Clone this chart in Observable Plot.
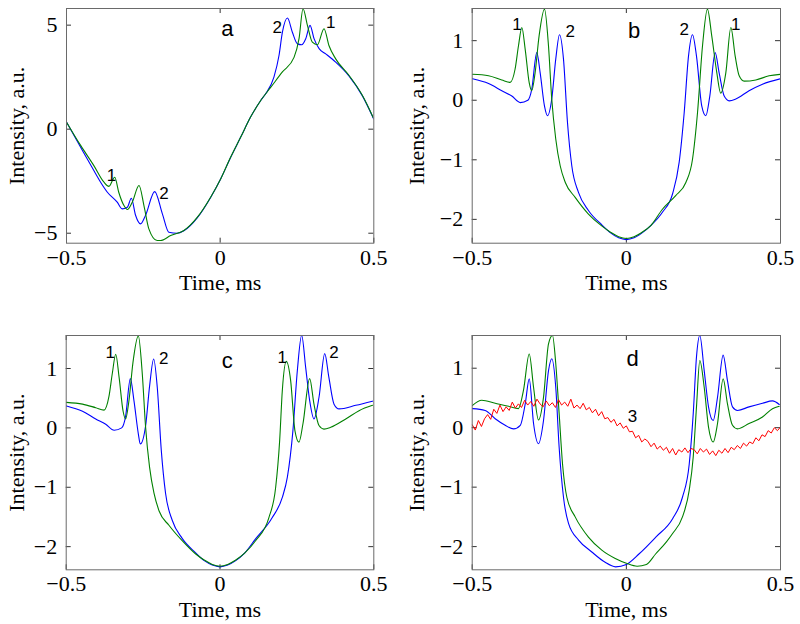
<!DOCTYPE html>
<html><head><meta charset="utf-8">
<script src="https://cdn.jsdelivr.net/npm/d3@7"></script>
<script src="https://cdn.jsdelivr.net/npm/@observablehq/plot@0.6"></script>
<style>
body{margin:0;background:#fff;}
#wrap{position:relative;width:800px;height:624px;overflow:hidden;}
.panel{position:absolute;}
</style></head>
<body><div id="wrap"></div>
<script>
// ---------- axis ticks ----------
const xTicks = [-0.5, 0, 0.5];
const yTicksA = [-5, 0, 5];
const yTicksBCD = [-2, -1, 0, 1];
const xLabel = "Time, ms";
const yLabel = "Intensity, a.u.";

// ---------- panel a ----------
const aGreenT = [-0.5,-0.454,-0.411,-0.378,-0.362,-0.343,-0.33,-0.313,-0.302,-0.286,-0.264,-0.248,-0.232,-0.205,-0.194,-0.161,-0.118,-0.074,-0.031,0.002,0.034,0.067,0.099,0.132,0.165,0.2026,0.2404,0.2567,0.2697,0.284,0.300,0.3166,0.338,0.354,0.376,0.4196,0.463,0.5];
const aGreenV = [0.34,-0.78,-1.75,-2.55,-2.75,-2.31,-3.03,-3.67,-3.86,-3.51,-2.71,-3.67,-4.79,-5.35,-5.35,-5.11,-4.87,-4.23,-3.27,-2.38,-1.35,-0.38,0.58,1.38,2.02,2.75,3.45,4.35,5.79,4.99,4.18,4.06,4.83,4.02,3.38,2.58,1.62,0.5];
const aBlueT = [-0.5,-0.454,-0.411,-0.389,-0.367,-0.335,-0.319,-0.302,-0.289,-0.275,-0.259,-0.243,-0.213,-0.188,-0.167,-0.14,-0.118,-0.074,-0.031,0.002,0.034,0.067,0.099,0.132,0.148,0.175,0.1915,0.2026,0.219,0.235,0.2515,0.2655,0.2785,0.2925,0.3055,0.322,0.3436,0.376,0.4196,0.463,0.5];
const aBlueV = [0.34,-0.87,-1.99,-2.55,-3.03,-3.51,-3.83,-3.75,-3.32,-4.15,-4.55,-4.15,-3.0,-4.07,-4.95,-5.0,-4.88,-4.25,-3.28,-2.38,-1.36,-0.38,0.58,1.38,1.70,2.50,3.54,4.66,5.34,4.66,4.10,4.06,4.35,4.99,4.35,3.87,3.62,3.22,2.55,1.60,0.48];
const aLetterT = [0.0235], aLetterV = [4.83], aLetterS = ["a"];
const aNumT = [-0.354,-0.183,0.186,0.36], aNumV = [-2.23,-3.1,4.90,5.14], aNumS = ["1","2","2","1"];

// ---------- panel b ----------
const bGreenT = [-0.499,-0.447,-0.404,-0.377,-0.361,-0.350,-0.339,-0.328,-0.315,-0.307,-0.296,-0.283,-0.2655,-0.2525,-0.242,-0.229,-0.2146,-0.198,-0.166,-0.123,-0.08,-0.05,-0.025,0.0,0.025,0.05,0.08,0.117,0.160,0.193,0.2146,0.2308,0.247,0.263,0.277,0.2935,0.306,0.3226,0.339,0.353,0.366,0.382,0.420,0.463,0.5];
const bGreenV = [0.435,0.41,0.34,0.30,0.52,0.91,1.22,0.85,0.29,0.16,0.46,1.08,1.53,0.91,0.02,-0.65,-1.10,-1.38,-1.63,-1.91,-2.11,-2.22,-2.29,-2.32,-2.29,-2.22,-2.10,-1.83,-1.60,-1.38,-0.99,-0.21,0.91,1.53,1.08,0.46,0.12,0.46,1.22,0.74,0.41,0.32,0.34,0.41,0.435];
const bBlueT = [-0.499,-0.447,-0.404,-0.3715,-0.344,-0.3196,-0.307,-0.2905,-0.2795,-0.2655,-0.2558,-0.242,-0.229,-0.2168,-0.2039,-0.191,-0.177,-0.155,-0.123,-0.08,-0.05,-0.025,0.0,0.025,0.05,0.08,0.117,0.150,0.1714,0.1876,0.2016,0.2146,0.2275,0.2447,0.2577,0.2707,0.288,0.301,0.3174,0.3336,0.355,0.398,0.4416,0.5];
const bBlueV = [0.36,0.28,0.16,0.07,-0.04,0.0,0.18,0.80,0.46,-0.10,-0.26,0.02,0.69,1.10,0.69,-0.37,-1.10,-1.55,-1.85,-2.09,-2.23,-2.31,-2.34,-2.31,-2.23,-2.10,-1.88,-1.57,-1.04,-0.21,0.74,1.10,0.74,-0.10,-0.26,0.07,0.80,0.46,0.07,-0.01,0.02,0.16,0.27,0.36];
const bLetterT = [0.025], bLetterV = [1.16], bLetterS = ["b"];
const bNumT = [-0.355,-0.182,0.1876,0.355], bNumV = [1.27,1.16,1.19,1.27], bNumS = ["1","2","2","1"];

// ---------- panel c ----------
const cGreenT = [-0.499,-0.447,-0.404,-0.377,-0.361,-0.350,-0.339,-0.328,-0.315,-0.307,-0.296,-0.283,-0.2655,-0.2525,-0.242,-0.229,-0.2146,-0.198,-0.166,-0.123,-0.08,-0.05,-0.025,0.0,0.025,0.05,0.08,0.1156,0.159,0.181,0.194,0.2026,0.2156,0.2296,0.2437,0.2567,0.2697,0.2915,0.3055,0.3218,0.338,0.36,0.4088,0.452,0.4958];
const cGreenV = [0.43,0.40,0.34,0.30,0.53,0.92,1.24,0.85,0.28,0.15,0.46,1.10,1.55,0.90,0.02,-0.66,-1.10,-1.40,-1.64,-1.90,-2.12,-2.23,-2.30,-2.33,-2.30,-2.23,-2.11,-1.90,-1.51,-1.0,-0.21,0.63,1.12,0.80,-0.05,-0.24,0.07,0.83,0.40,0.04,-0.02,0.01,0.15,0.29,0.38];
const cBlueT = [-0.499,-0.447,-0.404,-0.3715,-0.344,-0.3196,-0.307,-0.2915,-0.2795,-0.2655,-0.259,-0.242,-0.229,-0.2156,-0.2039,-0.191,-0.177,-0.155,-0.123,-0.08,-0.05,-0.025,0.0,0.025,0.05,0.08,0.1156,0.170,0.2026,0.219,0.237,0.2515,0.2655,0.2785,0.2915,0.3055,0.322,0.3404,0.354,0.3707,0.387,0.4414,0.4958];
const cBlueV = [0.37,0.28,0.15,0.06,-0.04,0.0,0.19,0.83,0.45,-0.10,-0.27,0.03,0.70,1.16,0.68,-0.37,-1.10,-1.56,-1.86,-2.10,-2.24,-2.31,-2.34,-2.31,-2.24,-2.11,-1.87,-1.51,-1.17,-0.83,-0.05,0.97,1.56,1.02,0.46,0.15,0.52,1.25,0.85,0.40,0.32,0.38,0.45];
const cLetterT = [0.0235], cLetterV = [1.13], cLetterS = ["c"];
const cNumT = [-0.357,-0.183,0.2026,0.3707], cNumV = [1.27,1.16,1.19,1.27], cNumS = ["1","2","1","2"];

// ---------- panel d ----------
const dGreenT = [-0.499,-0.469,-0.4254,-0.382,-0.350,-0.3336,-0.315,-0.301,-0.285,-0.2687,-0.2525,-0.2396,-0.229,-0.218,-0.207,-0.193,-0.166,-0.123,-0.0796,-0.036,0.0,0.035,0.065,0.0955,0.13,0.150,0.182,0.204,0.217,0.2275,0.2383,0.2525,0.2665,0.2817,0.2957,0.314,0.328,0.3443,0.3605,0.398,0.4416,0.474,0.496];
const dGreenV = [0.375,0.46,0.41,0.36,0.32,0.63,1.24,0.68,0.13,0.51,1.41,1.55,1.08,0.24,-0.61,-1.17,-1.50,-1.84,-2.06,-2.20,-2.28,-2.33,-2.30,-2.12,-1.92,-1.78,-1.50,-1.05,-0.49,0.35,1.13,0.68,0.01,-0.24,0.07,0.82,0.40,0.04,-0.02,0.07,0.18,0.32,0.36];
const dBlueT = [-0.499,-0.458,-0.4254,-0.393,-0.366,-0.344,-0.328,-0.315,-0.301,-0.285,-0.2687,-0.2525,-0.2418,-0.229,-0.218,-0.2039,-0.1876,-0.155,-0.112,-0.07,-0.035,0.0,0.0417,0.0955,0.150,0.182,0.204,0.217,0.2275,0.2383,0.2525,0.2665,0.2817,0.2957,0.314,0.328,0.3443,0.3605,0.398,0.4416,0.474,0.496];
const dBlueV = [0.32,0.29,0.15,0.04,-0.02,0.04,0.40,0.82,0.07,-0.27,0.12,0.96,1.16,0.68,-0.33,-1.17,-1.61,-1.89,-2.09,-2.26,-2.34,-2.30,-2.12,-1.84,-1.53,-1.17,-0.61,0.24,1.19,1.55,0.96,0.35,0.12,0.51,1.22,0.79,0.35,0.29,0.35,0.41,0.45,0.39];
const dRedT = [-0.50,-0.49,-0.48,-0.47,-0.46,-0.45,-0.44,-0.43,-0.42,-0.41,-0.40,-0.39,-0.38,-0.37,-0.36,-0.35,-0.34,-0.33,-0.32,-0.31,-0.30,-0.29,-0.28,-0.27,-0.26,-0.25,-0.24,-0.23,-0.22,-0.21,-0.20,-0.19,-0.18,-0.17,-0.16,-0.15,-0.14,-0.13,-0.12,-0.11,-0.10,-0.09,-0.08,-0.07,-0.06,-0.05,-0.04,-0.03,-0.02,-0.01,0.00,0.01,0.02,0.03,0.04,0.05,0.06,0.07,0.08,0.09,0.10,0.11,0.12,0.13,0.14,0.15,0.16,0.17,0.18,0.19,0.20,0.21,0.22,0.23,0.24,0.25,0.26,0.27,0.28,0.29,0.30,0.31,0.32,0.33,0.34,0.35,0.36,0.37,0.38,0.39,0.40,0.41,0.42,0.43,0.44,0.45,0.46,0.47,0.48,0.49,0.50];
const dRedV = [0.05,-0.04,0.12,0.02,0.15,0.22,0.14,0.31,0.24,0.38,0.27,0.35,0.29,0.43,0.33,0.40,0.34,0.46,0.38,0.44,0.36,0.48,0.40,0.35,0.45,0.37,0.42,0.34,0.47,0.38,0.43,0.36,0.48,0.33,0.38,0.32,0.41,0.30,0.34,0.25,0.31,0.20,0.27,0.15,0.17,0.09,0.14,0.03,0.08,-0.01,0.03,-0.07,-0.06,-0.17,-0.13,-0.24,-0.19,-0.23,-0.32,-0.26,-0.36,-0.31,-0.38,-0.33,-0.43,-0.35,-0.46,-0.37,-0.41,-0.34,-0.42,-0.35,-0.37,-0.44,-0.35,-0.41,-0.36,-0.45,-0.39,-0.47,-0.38,-0.43,-0.35,-0.42,-0.33,-0.37,-0.30,-0.35,-0.26,-0.31,-0.24,-0.27,-0.17,-0.22,-0.12,-0.15,-0.05,-0.09,0.00,-0.05,0.01];
const dLetterT = [0.02], dLetterV = [1.16], dLetterS = ["d"];
const dNumT = [0.02], dNumV = [0.18], dNumS = ["3"];

// ---------- drawing ----------
const BLUE = "#0000ff", GREEN = "#008000", RED = "#ff0000";
const W = 400, H = 312;
const fmt = d => d === 0 ? "0" : (d < 0 ? "\u2212" : "") + Math.abs(d);
const pts = (T, V) => T.map((t, i) => ({t, v: V[i]}));
const lbl = (T, V, S) => T.map((t, i) => ({t, v: V[i], s: S[i]}));

function makePanel(cfg) {
  const fh = H - cfg.mT - cfg.mB;
  const fw = W - cfg.mL - cfg.mR;
  const marks = [
    Plot.tickX(xTicks, {x: d => d, insetTop: fh - 5, stroke: "#333"}),
    Plot.tickX(xTicks, {x: d => d, insetBottom: fh - 5, stroke: "#333"}),
    Plot.tickY(cfg.yTicks, {y: d => d, insetRight: fw - 5, stroke: "#333"}),
    Plot.tickY(cfg.yTicks, {y: d => d, insetLeft: fw - 5, stroke: "#333"}),
    ...cfg.series.map(s => Plot.line(pts(s.t, s.v), {x: "t", y: "v", stroke: s.color, strokeWidth: s.color === RED ? 1 : 1.1, curve: s.color === RED ? "linear" : "monotone-x", clip: "frame"})),
    Plot.frame({stroke: "#6a6a6a"}),
    Plot.text(lbl(cfg.letters[0], cfg.letters[1], cfg.letters[2]), {x: "t", y: "v", text: "s", fontFamily: "'Liberation Sans', Arial, sans-serif", fontSize: 22, fill: "#000"}),
    Plot.text(lbl(cfg.nums[0], cfg.nums[1], cfg.nums[2]), {x: "t", y: "v", text: "s", fontFamily: "'Liberation Sans', Arial, sans-serif", fontSize: 17, fill: "#000"}),
    Plot.axisX({ticks: xTicks, tickSize: 0, tickPadding: 6, tickFormat: fmt, label: null}),
    Plot.axisX({ticks: [], tickSize: 0, label: xLabel, labelAnchor: "center", labelArrow: "none", labelOffset: 47}),
    Plot.axisY({ticks: cfg.yTicks, tickSize: 0, tickPadding: 9, tickFormat: fmt, label: yLabel, labelAnchor: "center", labelArrow: "none", labelOffset: cfg.mL - 8})
  ];
  const svg = Plot.plot({
    width: W, height: H,
    marginLeft: cfg.mL, marginRight: cfg.mR, marginTop: cfg.mT, marginBottom: cfg.mB,
    x: {domain: [-0.5, 0.5]},
    y: {domain: cfg.yDomain},
    style: {fontFamily: "'Liberation Serif', 'Times New Roman', serif", fontSize: "22px", background: "transparent", overflow: "visible"},
    marks
  });
  const div = document.createElement("div");
  div.className = "panel";
  div.style.left = cfg.left + "px";
  div.style.top = cfg.top + "px";
  div.appendChild(svg);
  document.getElementById("wrap").appendChild(div);
}

makePanel({left: 0, top: 0, mL: 66, mR: 26.7, mT: 8, mB: 69.3, yDomain: [-5.48, 5.80], yTicks: yTicksA,
  series: [{t: aBlueT, v: aBlueV, color: BLUE}, {t: aGreenT, v: aGreenV, color: GREEN}],
  letters: [aLetterT, aLetterV, aLetterS], nums: [aNumT, aNumV, aNumS]});
makePanel({left: 400, top: 0, mL: 71.7, mR: 20, mT: 8, mB: 69.3, yDomain: [-2.40, 1.54], yTicks: yTicksBCD,
  series: [{t: bBlueT, v: bBlueV, color: BLUE}, {t: bGreenT, v: bGreenV, color: GREEN}],
  letters: [bLetterT, bLetterV, bLetterS], nums: [bNumT, bNumV, bNumS]});
makePanel({left: 0, top: 312, mL: 65.7, mR: 26.7, mT: 23, mB: 54.7, yDomain: [-2.39, 1.556], yTicks: yTicksBCD,
  series: [{t: cBlueT, v: cBlueV, color: BLUE}, {t: cGreenT, v: cGreenV, color: GREEN}],
  letters: [cLetterT, cLetterV, cLetterS], nums: [cNumT, cNumV, cNumS]});
makePanel({left: 400, top: 312, mL: 71.7, mR: 20, mT: 23, mB: 54.7, yDomain: [-2.39, 1.55], yTicks: yTicksBCD,
  series: [{t: dBlueT, v: dBlueV, color: BLUE}, {t: dGreenT, v: dGreenV, color: GREEN}, {t: dRedT, v: dRedV, color: RED}],
  letters: [dLetterT, dLetterV, dLetterS], nums: [dNumT, dNumV, dNumS]});
</script>
</body></html>
